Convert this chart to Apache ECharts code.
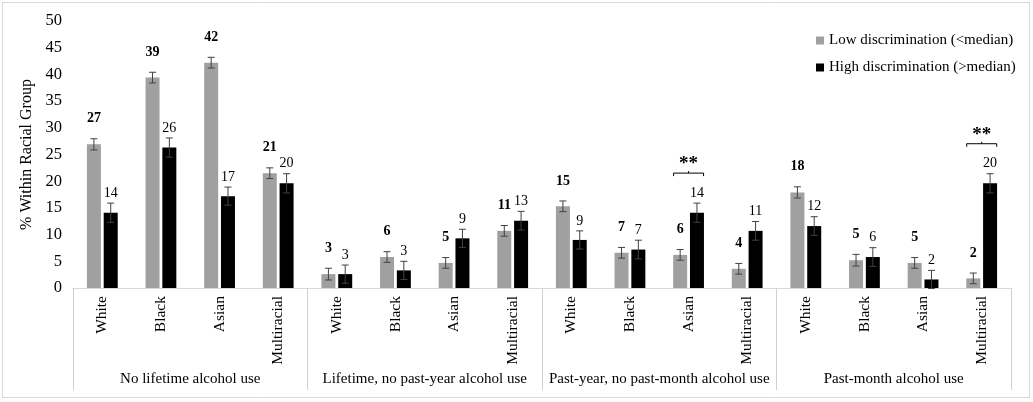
<!DOCTYPE html>
<html>
<head>
<meta charset="utf-8">
<script src="https://cdn.jsdelivr.net/npm/echarts@6/dist/echarts.min.js"></script>
<style>
    html, body { margin: 0; padding: 0; background: #fff; }
    #chart { width: 1033px; height: 402px; }
</style>
</head>
<body>
<div id="chart"></div>
<script>
    // race within each alcohol-use group
    var races = ['White', 'Black', 'Asian', 'Multiracial',
                 'White', 'Black', 'Asian', 'Multiracial',
                 'White', 'Black', 'Asian', 'Multiracial',
                 'White', 'Black', 'Asian', 'Multiracial'];
    var groups = ['No lifetime alcohol use', 'Lifetime, no past-year alcohol use',
                  'Past-year, no past-month alcohol use', 'Past-month alcohol use'];

    var lowValues  = [26.9, 39.4, 42.2, 21.5, 2.6, 5.8, 4.7, 10.7, 15.3, 6.6, 6.2, 3.6, 17.9, 5.2, 4.7, 1.8];
    var lowErr     = [1.05, 1.0, 1.0, 1.0, 1.1, 1.0, 1.0, 1.0, 1.0, 1.0, 1.0, 1.0, 1.05, 1.1, 1.0, 1.0];
    var lowLabels  = ['27', '39', '42', '21', '3', '6', '5', '11', '15', '7', '6', '4', '18', '5', '5', '2'];

    var highValues = [14.1, 26.3, 17.2, 19.6, 2.6, 3.3, 9.3, 12.6, 9.0, 7.2, 14.1, 10.7, 11.6, 5.8, 1.6, 19.6];
    var highErr    = [1.8, 1.8, 1.7, 1.8, 1.7, 1.7, 1.7, 1.75, 1.7, 1.75, 1.8, 1.75, 1.75, 1.75, 1.7, 1.8];
    var highLabels = ['14', '26', '17', '20', '3', '3', '9', '13', '9', '7', '14', '11', '12', '6', '2', '20'];

    var sigIndex = [10, 15]; // ** marks

    var seriesNames = ['Low discrimination (<median)', 'High discrimination (>median)'];
    var colors = ['#a0a0a0', '#000000'];

    var BAR_W = 14, BAR_GAP = 0.2;
    var barShift = BAR_W * (1 + BAR_GAP) / 2;
    var FONT = '"Liberation Serif", "Times New Roman", serif';

    function errData(values, errs, labels) {
        var out = [];
        for (var i = 0; i < values.length; i++) {
            out.push([i, values[i] - errs[i], values[i] + errs[i], labels[i]]);
        }
        return out;
    }

    function errSeries(data, side, bold, labelGap) {
        return {
            type: 'custom',
            xAxisIndex: 0,
            silent: true,
            z: 5,
            data: data,
            renderItem: function (params, api) {
                var lo = api.coord([api.value(0), api.value(1)]);
                var hi = api.coord([api.value(0), api.value(2)]);
                var x = lo[0] + side * barShift;
                var st = { stroke: '#404040', lineWidth: 1 };
                return {
                    type: 'group',
                    children: [
                        { type: 'line', shape: { x1: x, y1: lo[1], x2: x, y2: hi[1] }, style: st },
                        { type: 'line', shape: { x1: x - 3.5, y1: lo[1], x2: x + 3.5, y2: lo[1] }, style: st },
                        { type: 'line', shape: { x1: x - 3.5, y1: hi[1], x2: x + 3.5, y2: hi[1] }, style: st },
                        { type: 'text', style: {
                            x: x, y: hi[1] - labelGap, text: data[params.dataIndex][3],
                            align: 'center', verticalAlign: 'middle',
                            font: (bold ? 'bold ' : '') + '14px ' + FONT, fill: '#000'
                        } }
                    ]
                };
            }
        };
    }

    var sigData = sigIndex.map(function (i) { return [i, highValues[i] + highErr[i]]; });

    var chart = echarts.init(document.getElementById('chart'));
    var option = {
        animation: false,
        color: colors,
        textStyle: { fontFamily: FONT },
        graphic: [{
            type: 'rect', shape: { x: 2.5, y: 2.5, width: 1027, height: 395 },
            style: { fill: 'none', stroke: '#d9d9d9', lineWidth: 1 }, silent: true
        }],
        legend: {
            orient: 'vertical',
            left: 811,
            top: 28,
            itemWidth: 8,
            itemHeight: 8,
            itemGap: 12,
            icon: 'rect',
            textStyle: { fontFamily: FONT, fontSize: 15, color: '#000' },
            data: seriesNames
        },
        grid: { left: 73, right: 22, top: 21, bottom: 114, outerBoundsMode: 'none' },
        xAxis: [{
            type: 'category',
            data: races,
            axisLine: { lineStyle: { color: '#d9d9d9' } },
            axisTick: { show: false },
            axisLabel: { interval: 0, rotate: 90, margin: 8, color: '#000', fontFamily: FONT, fontSize: 15.5 }
        }, {
            type: 'category',
            data: groups,
            position: 'bottom',
            axisLine: { show: false },
            axisTick: { show: true, interval: 0, length: 102, lineStyle: { color: '#d0d0d0' } },
            axisLabel: { interval: 0, margin: 84, color: '#000', fontFamily: FONT, fontSize: 15 }
        }],
        yAxis: {
            type: 'value',
            min: 0, max: 50, interval: 5,
            name: '% Within Racial Group',
            nameLocation: 'middle',
            nameGap: 38,
            nameRotate: 90,
            nameTextStyle: { fontFamily: FONT, fontSize: 16, color: '#000' },
            axisLine: { show: false },
            axisTick: { show: false },
            splitLine: { show: false },
            axisLabel: { margin: 11, color: '#000', fontFamily: FONT, fontSize: 16.5 }
        },
        series: [{
            name: seriesNames[0], type: 'bar', data: lowValues,
            barWidth: BAR_W, barGap: (BAR_GAP * 100) + '%'
        }, {
            name: seriesNames[1], type: 'bar', data: highValues,
            barWidth: BAR_W, barGap: (BAR_GAP * 100) + '%'
        },
        errSeries(errData(lowValues, lowErr, lowLabels), -1, true, 20),
        errSeries(errData(highValues, highErr, highLabels), 1, false, 10),
        {
            type: 'custom',
            silent: true,
            data: sigData,
            renderItem: function (params, api) {
                var p = api.coord([api.value(0), api.value(1)]);
                var y = p[1] - 30, x = p[0], w = 15;
                var st = { stroke: '#000', lineWidth: 1, fill: 'none' };
                return {
                    type: 'group',
                    children: [
                        { type: 'polyline', shape: { points: [[x - w, y + 3], [x - w, y], [x + w, y], [x + w, y + 3]] }, style: st },
                        { type: 'line', shape: { x1: x, y1: y, x2: x, y2: y - 2 }, style: st },
                        { type: 'text', style: { x: x, y: y - 9, text: '**', align: 'center', verticalAlign: 'middle',
                            font: 'bold 19px ' + FONT, fill: '#000' } }
                    ]
                };
            }
        }]
    };
    chart.setOption(option);
</script>
</body>
</html>
